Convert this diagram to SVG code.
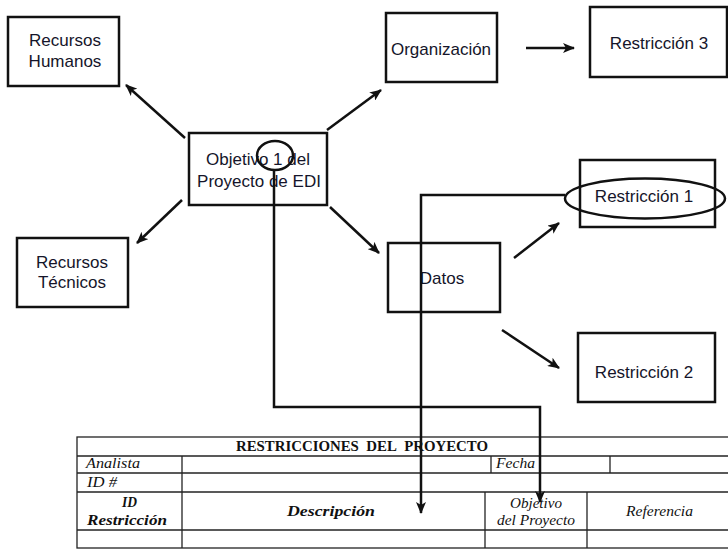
<svg xmlns="http://www.w3.org/2000/svg" width="728" height="555" viewBox="0 0 728 555">
<defs>
<style>
.box{fill:#fff;stroke:#111;stroke-width:2.5}
.lbl{font-family:"Liberation Sans",Arial,sans-serif;font-size:17px;fill:#15152a;text-anchor:middle}
.con{fill:none;stroke:#111;stroke-width:2.5}
.mark{fill:none;stroke:#111;stroke-width:2.5}
.tl{stroke:#222;stroke-width:1.3;fill:none}
.ts{font-family:"Liberation Serif","Times New Roman",serif;fill:#111;font-size:14px}
</style>
<marker id="ah" viewBox="0 0 12 10" refX="11" refY="5" markerWidth="12" markerHeight="10" orient="auto" markerUnits="userSpaceOnUse">
<path d="M0,0 L12,5 L0,10 L3,5 z" fill="#111"/>
</marker>
</defs>
<rect width="728" height="555" fill="#fff"/>

<g id="table">
<rect class="tl" x="77" y="437" width="660" height="111"/>
<line class="tl" x1="77" y1="456" x2="728" y2="456"/>
<line class="tl" x1="77" y1="473" x2="728" y2="473"/>
<line class="tl" x1="77" y1="492" x2="728" y2="492"/>
<line class="tl" x1="77" y1="530" x2="728" y2="530"/>
<line class="tl" x1="182" y1="456" x2="182" y2="548"/>
<line class="tl" x1="491" y1="456" x2="491" y2="473"/>
<line class="tl" x1="610" y1="456" x2="610" y2="473"/>
<line class="tl" x1="485" y1="492" x2="485" y2="548"/>
<line class="tl" x1="587" y1="492" x2="587" y2="548"/>
<text class="ts" x="236" y="451" font-size="15" font-weight="bold" textLength="252" lengthAdjust="spacingAndGlyphs">RESTRICCIONES&#160; DEL&#160; PROYECTO</text>
<text class="ts" x="86" y="468" font-style="italic" textLength="54" lengthAdjust="spacingAndGlyphs">Analista</text>
<text class="ts" x="87" y="487" font-style="italic" textLength="30" lengthAdjust="spacingAndGlyphs">ID #</text>
<text class="ts" x="496" y="468" font-style="italic" textLength="39" lengthAdjust="spacingAndGlyphs">Fecha</text>
<text class="ts" x="122" y="507" font-style="italic" font-weight="bold" textLength="15" lengthAdjust="spacingAndGlyphs">ID</text>
<text class="ts" x="87" y="525" font-style="italic" font-weight="bold" textLength="80" lengthAdjust="spacingAndGlyphs">Restricción</text>
<text class="ts" x="287" y="516" font-style="italic" font-weight="bold" textLength="88" lengthAdjust="spacingAndGlyphs">Descripción</text>
<text class="ts" x="510" y="508" font-style="italic" textLength="52" lengthAdjust="spacingAndGlyphs">Objetivo</text>
<text class="ts" x="497" y="525" font-style="italic" textLength="78" lengthAdjust="spacingAndGlyphs">del Proyecto</text>
<text class="ts" x="626" y="516" font-style="italic" textLength="67" lengthAdjust="spacingAndGlyphs">Referencia</text>
</g>

<g id="n-rh">
<rect class="box" x="8" y="17" width="111" height="69"/>
<text class="lbl" x="65" y="46">Recursos</text>
<text class="lbl" x="65" y="67">Humanos</text>
</g>
<g id="n-obj">
<rect class="box" x="189" y="133" width="138" height="72"/>
<text class="lbl" x="258" y="165" font-size="18">Objetivo 1 del</text>
<text class="lbl" x="259" y="187" font-size="18">Proyecto de EDI</text>
</g>
<g id="n-org">
<rect class="box" x="386" y="13" width="111" height="69"/>
<text class="lbl" x="441" y="55">Organización</text>
</g>
<g id="n-r3">
<rect class="box" x="590" y="7" width="137" height="70"/>
<text class="lbl" x="659" y="49">Restricción 3</text>
</g>
<g id="n-rt">
<rect class="box" x="17" y="238" width="111" height="69"/>
<text class="lbl" x="72" y="268">Recursos</text>
<text class="lbl" x="72" y="288">Técnicos</text>
</g>
<g id="n-datos">
<rect class="box" x="388" y="243" width="112" height="69"/>
<text class="lbl" x="442" y="284">Datos</text>
</g>
<g id="n-r1">
<rect class="box" x="580" y="160" width="135" height="67"/>
<text class="lbl" x="644" y="202">Restricción 1</text>
</g>
<g id="n-r2">
<rect class="box" x="578" y="333" width="137" height="69"/>
<text class="lbl" x="644" y="378">Restricción 2</text>
</g>

<g id="connectors">
<line class="con" x1="185" y1="138" x2="126" y2="85" marker-end="url(#ah)"/>
<line class="con" x1="327" y1="130" x2="381" y2="90" marker-end="url(#ah)"/>
<line class="con" x1="526" y1="48" x2="574" y2="48" marker-end="url(#ah)"/>
<line class="con" x1="182" y1="200" x2="137" y2="243" marker-end="url(#ah)"/>
<line class="con" x1="330" y1="207" x2="379" y2="253" marker-end="url(#ah)"/>
<line class="con" x1="514" y1="258" x2="559" y2="223" marker-end="url(#ah)"/>
<line class="con" x1="502" y1="330" x2="559" y2="368" marker-end="url(#ah)"/>
<ellipse class="mark" cx="275" cy="155.5" rx="18" ry="14.5"/>
<ellipse class="mark" cx="645" cy="198.5" rx="80" ry="20"/>
<polyline class="con" points="274,170 274,407 540,407 540,502" marker-end="url(#ah)"/>
<polyline class="con" points="565,195 421,195 421,513" marker-end="url(#ah)"/>
</g>
</svg>
